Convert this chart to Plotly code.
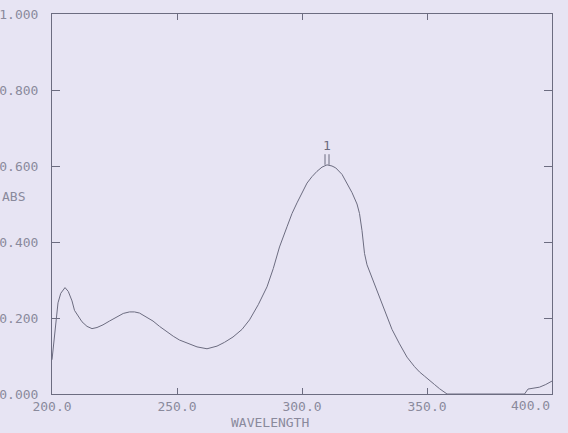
import plotly.graph_objects as go

# spectrum
wavelength = [200.0, 200.8, 201.6, 202.4, 203.5, 205.2, 206.5, 208.0, 209.0, 210.5,
              212.0, 214.0, 216.0, 218.0, 220.4, 223.0, 226.0, 228.5, 231.0, 233.0,
              235.0, 237.5, 240.4, 243.0, 246.0, 248.5, 251.0, 254.5, 258.0, 262.0,
              266.0, 269.0, 272.4, 276.0, 279.0, 282.5, 286.0, 288.5, 291.0, 294.0,
              296.0, 298.0, 300.0, 302.0, 304.0, 306.0, 308.0, 310.0, 312.0, 313.5,
              316.0, 318.0, 320.0, 322.0, 323.0, 324.0, 325.0, 326.0, 328.0, 330.0,
              332.0, 334.0, 336.0, 339.0, 342.0, 345.0, 347.0, 349.0, 351.0, 353.0,
              355.0, 358.0, 370.0, 380.0, 389.0, 390.4, 392.0, 395.0, 397.5, 400.0]
absorbance = [0.090, 0.140, 0.200, 0.240, 0.265, 0.280, 0.270, 0.245, 0.220, 0.205,
              0.190, 0.178, 0.172, 0.175, 0.182, 0.192, 0.204, 0.212, 0.216, 0.216,
              0.213, 0.204, 0.192, 0.178, 0.163, 0.152, 0.142, 0.132, 0.124, 0.119,
              0.126, 0.136, 0.150, 0.170, 0.195, 0.235, 0.282, 0.330, 0.387, 0.440,
              0.475, 0.503, 0.530, 0.555, 0.572, 0.586, 0.597, 0.603, 0.600, 0.595,
              0.578, 0.555, 0.530, 0.500, 0.475, 0.430, 0.370, 0.340, 0.305, 0.270,
              0.235, 0.205, 0.170, 0.132, 0.097, 0.072, 0.058, 0.047, 0.037, 0.025,
              0.014, 0.000, 0.000, 0.000, 0.000, 0.013, 0.015, 0.018, 0.025, 0.034]

peak_nm = [310.0]
peak_abs = [0.603]
peak_labels = ["1"]

x_ticks = [200, 250, 300, 350, 400]
x_ticktext = ["200.0", "250.0", "300.0", "350.0", "400.0"]
y_ticks = [0.0, 0.2, 0.4, 0.6, 0.8, 1.0]
y_ticktext = ["0.000", "0.200", "0.400", "0.600", "0.800", "1.000"]

bg = "#e7e4f3"
ink = "#6c6c80"
txt = "#8a8a9c"
font = dict(family="DejaVu Sans Mono", size=13, color=txt)

fig = go.Figure()
fig.add_trace(go.Scatter(x=wavelength, y=absorbance, mode="lines",
                         line=dict(color=ink, width=1), hoverinfo="skip"))

# peak marker: double tick above the peak with its number
for pk_x, pk_y, lab in zip(peak_nm, peak_abs, peak_labels):
    fig.add_trace(go.Scatter(x=[pk_x - 0.8, pk_x - 0.8, None, pk_x + 0.8, pk_x + 0.8],
                             y=[pk_y, pk_y + 0.028, None, pk_y, pk_y + 0.028],
                             mode="lines", line=dict(color=ink, width=1)))
    fig.add_annotation(x=pk_x, y=pk_y + 0.052, text=lab, showarrow=False,
                       font=dict(family="DejaVu Sans Mono", size=13, color=ink))

# last x label sits flush with the right frame, like on the printout
fig.add_annotation(x=x_ticks[-1], xanchor="right", yref="paper", y=-0.03,
                   yanchor="middle", text=x_ticktext[-1], showarrow=False, font=font)

fig.add_annotation(xref="paper", x=-0.104, xanchor="left", y=0.52, yref="y",
                   text="ABS", showarrow=False, font=font)
fig.add_annotation(xref="x", x=287, yref="paper", y=-0.074, yanchor="middle",
                   text="WAVELENGTH", showarrow=False, font=font)

fig.update_xaxes(range=[200, 400], tickvals=x_ticks,
                 ticktext=x_ticktext[:-1] + [""],
                 showgrid=False, zeroline=False, showline=True, linecolor=ink,
                 linewidth=1, mirror="ticks", ticks="inside", ticklen=6,
                 tickcolor=ink, tickfont=font, automargin=False)
fig.update_yaxes(range=[0, 1], tickvals=y_ticks, ticktext=y_ticktext,
                 showgrid=False, zeroline=False, showline=True, linecolor=ink,
                 linewidth=1, mirror="ticks", ticks="inside", ticklen=8,
                 tickcolor=ink, tickfont=font, ticklabelstandoff=10,
                 automargin=False)

fig.update_layout(width=568, height=433, showlegend=False,
                  margin=dict(l=52, r=16, t=14, b=39),
                  paper_bgcolor=bg, plot_bgcolor=bg)

fig.write_html("out.html", config={"displayModeBar": False},
               post_script="document.body.style.margin='0';"
                           "document.body.style.background='%s';" % bg)
